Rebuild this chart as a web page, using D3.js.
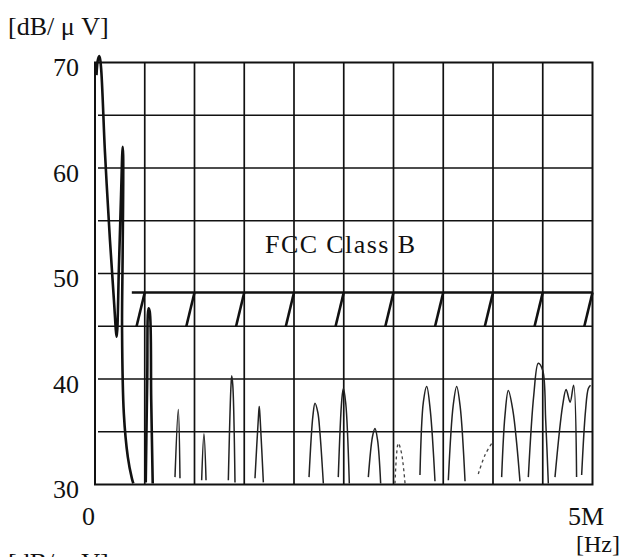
<!DOCTYPE html>
<html>
<head>
<meta charset="utf-8">
<script src="https://cdn.jsdelivr.net/npm/d3@7"></script>
<style>
  html, body { margin: 0; padding: 0; background: #fff; }
  svg { display: block; }
  text { font-family: 'Liberation Serif', 'DejaVu Serif', serif; fill: #111; }
</style>
</head>
<body>
<div id="chart"></div>
<script>
// axis ranges and tick labels
const FREQ_DOMAIN = [0, 5];          // MHz
const LEVEL_DOMAIN = [30, 70];       // dB/uV
const gridFreqs = [0.5, 1, 1.5, 2, 2.5, 3, 3.5, 4, 4.5];
const gridLevels = [35, 40, 45, 50, 55, 60, 65];
const levelTicks = [30, 40, 50, 60, 70];
const freqTicks = [0, 5];
const freqTickLabels = ['0', '5M'];

// FCC class B limit (drawn as a hatched limit line)
const limitLevel = 48.2;
const limitBase = 45;
const limitStart = 0.37;
const limitTeeth = [0.5, 1, 1.5, 2, 2.5, 3, 3.5, 4, 4.5, 5];
const toothWidth = 0.082;

// measured trace, low-frequency part (thick pen)
const mainTrace = [
  [0.015, 68.8], [0.03, 70.3], [0.045, 70.6], [0.06, 69.6], [0.1, 61.5],
  [0.15, 53.2], [0.19, 47.5], [0.218, 44.0], [0.24, 50.5], [0.262, 57.5],
  [0.278, 62.0], [0.283, 61.2], [0.278, 52.0], [0.272, 44.6], [0.29, 36.7],
  [0.33, 32.6], [0.37, 30.6], [0.385, 30.1]
];
const lowSpike = [
  [0.51, 30.2], [0.525, 40.0], [0.538, 46.7], [0.55, 46.4], [0.565, 38.0], [0.58, 30.1]
];

// measured trace, narrow peaks above 0.8 MHz (thin pen)
const peaks = [
  [[0.804, 30.7], [0.837, 37.1], [0.854, 30.6]],
  [[1.072, 30.4], [1.095, 34.8], [1.116, 30.4]],
  [[1.340, 30.4], [1.365, 39.0], [1.374, 40.3], [1.385, 39.4], [1.407, 30.2]],
  [[1.608, 30.6], [1.645, 36.8], [1.651, 37.4], [1.66, 36.2], [1.692, 30.2]],
  [[2.151, 30.7], [2.19, 36.5], [2.211, 37.7], [2.24, 36.8], [2.26, 35.0], [2.295, 30.1]],
  [[2.445, 30.7], [2.48, 38.0], [2.496, 39.1], [2.52, 37.7], [2.556, 30.1]],
  [[2.747, 30.7], [2.79, 34.6], [2.814, 35.3], [2.84, 34.2], [2.871, 30.1]],
  [[3.266, 30.9], [3.30, 37.8], [3.334, 39.3], [3.37, 37.0], [3.417, 30.3]],
  [[3.551, 30.4], [3.60, 37.5], [3.635, 39.3], [3.67, 37.4], [3.719, 30.3]],
  [[4.087, 30.7], [4.12, 36.5], [4.154, 38.9], [4.20, 37.0], [4.238, 33.9], [4.271, 30.3]],
  [[4.355, 30.7], [4.41, 38.5], [4.455, 41.5], [4.50, 40.8], [4.53, 36.0], [4.556, 30.1]],
  [[4.623, 30.7], [4.70, 37.5], [4.735, 39.0], [4.775, 37.8], [4.81, 39.4], [4.84, 30.7]],
  [[4.891, 30.9], [4.93, 37.0], [4.958, 39.1], [4.98, 39.4]]
];
// faint, broken parts of the trace
const faintPeaks = [
  [[3.015, 30.1], [3.048, 33.9], [3.08, 33.0], [3.116, 30.1]],
  [[3.852, 31.0], [3.92, 32.8], [3.987, 33.9]]
];

const W = 624, H = 557;
const margin = { left: 95, right: 31.5, top: 62.5, bottom: 72.5 };

const svg = d3.select('#chart')
  .append('svg')
  .attr('width', W)
  .attr('height', H);

const x = d3.scaleLinear().domain(FREQ_DOMAIN).range([margin.left, W - margin.right]);
const y = d3.scaleLinear().domain(LEVEL_DOMAIN).range([H - margin.bottom, margin.top]);

// grid
const grid = svg.append('g').attr('stroke', '#111').attr('stroke-width', 1.7);
grid.selectAll('line.v')
  .data(gridFreqs)
  .join('line')
  .attr('class', 'v')
  .attr('x1', d => x(d)).attr('x2', d => x(d))
  .attr('y1', y(LEVEL_DOMAIN[1])).attr('y2', y(LEVEL_DOMAIN[0]));
grid.selectAll('line.h')
  .data(gridLevels)
  .join('line')
  .attr('class', 'h')
  .attr('x1', x(0.03)).attr('x2', x(FREQ_DOMAIN[1]))
  .attr('y1', d => y(d)).attr('y2', d => y(d));

// frame
svg.append('rect')
  .attr('x', x(FREQ_DOMAIN[0]))
  .attr('y', y(LEVEL_DOMAIN[1]))
  .attr('width', x(FREQ_DOMAIN[1]) - x(FREQ_DOMAIN[0]))
  .attr('height', y(LEVEL_DOMAIN[0]) - y(LEVEL_DOMAIN[1]))
  .attr('fill', 'none')
  .attr('stroke', '#111')
  .attr('stroke-width', 2);

// axes (labels only)
const yAxis = svg.append('g')
  .attr('transform', `translate(${x(FREQ_DOMAIN[0])},0)`)
  .call(d3.axisLeft(y).tickValues(levelTicks).tickSize(0).tickPadding(16));
yAxis.select('.domain').remove();
yAxis.selectAll('text')
  .attr('font-size', 26)
  .attr('dy', '0.5em');

const xAxis = svg.append('g')
  .attr('transform', `translate(0,${y(LEVEL_DOMAIN[0])})`)
  .call(d3.axisBottom(x).tickValues(freqTicks).tickSize(0).tickPadding(22)
    .tickFormat((d, i) => freqTickLabels[i]));
xAxis.select('.domain').remove();
xAxis.selectAll('text')
  .attr('font-size', 26)
  .attr('dx', -7);
svg.selectAll('.tick text').attr('fill', '#111');
svg.selectAll('.tick').attr('font-family', null);

// unit labels
svg.append('text')
  .attr('x', 8).attr('y', 34.5)
  .attr('font-size', 26)
  .text('[dB/ μ V]');
// the same unit label repeats at the very bottom edge, mostly cut off
svg.append('text')
  .attr('x', 8).attr('y', 571)
  .attr('font-size', 26)
  .text('[dB/ μ V]');
svg.append('text')
  .attr('x', 598).attr('y', 552)
  .attr('font-size', 24)
  .attr('text-anchor', 'middle')
  .text('[Hz]');

// FCC limit line with hatch teeth
const limit = svg.append('g')
  .attr('stroke', '#111')
  .attr('stroke-width', 2.6)
  .attr('fill', 'none');
limit.append('line')
  .attr('x1', x(limitStart)).attr('x2', x(FREQ_DOMAIN[1]))
  .attr('y1', y(limitLevel)).attr('y2', y(limitLevel));
limit.selectAll('line.tooth')
  .data(limitTeeth)
  .join('line')
  .attr('class', 'tooth')
  .attr('x1', d => x(d - toothWidth)).attr('y1', y(limitBase))
  .attr('x2', d => x(d)).attr('y2', y(limitLevel));

svg.append('text')
  .attr('x', 265).attr('y', 253)
  .attr('font-size', 26)
  .attr('textLength', 150)
  .attr('lengthAdjust', 'spacing')
  .text('FCC Class B');

// spectrum trace
const line = d3.line()
  .x(d => x(d[0]))
  .y(d => y(d[1]))
  .curve(d3.curveCatmullRom.alpha(0.5));

svg.append('g')
  .selectAll('path')
  .data([mainTrace, lowSpike])
  .join('path')
  .attr('d', line)
  .attr('fill', 'none')
  .attr('stroke', '#111')
  .attr('stroke-width', 2.6)
  .attr('stroke-linejoin', 'round');

svg.append('g')
  .selectAll('path')
  .data(peaks)
  .join('path')
  .attr('d', line)
  .attr('fill', 'none')
  .attr('stroke', '#222')
  .attr('stroke-width', 1.5)
  .attr('stroke-linejoin', 'round');

svg.append('g')
  .selectAll('path')
  .data(faintPeaks)
  .join('path')
  .attr('d', line)
  .attr('fill', 'none')
  .attr('stroke', '#444')
  .attr('stroke-width', 1.3)
  .attr('stroke-dasharray', '3 3');
</script>
</body>
</html>
